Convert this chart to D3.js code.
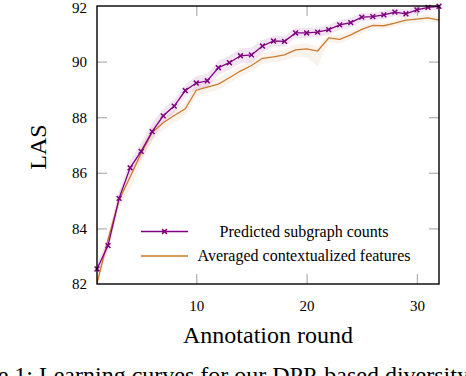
<!DOCTYPE html>
<html><head><meta charset="utf-8">
<script src="https://cdn.jsdelivr.net/npm/d3@7"></script>
<style>body{margin:0;background:#fff;overflow:hidden}svg{display:block}text{font-family:"Liberation Serif","Times New Roman",serif}</style>
</head><body>
<script>
const rounds = d3.range(1, 33);
const subgraphCounts = [82.54, 83.38, 85.08, 86.18, 86.77, 87.48, 88.05, 88.40, 88.96, 89.23, 89.31, 89.78, 89.96, 90.21, 90.24, 90.56, 90.74, 90.73, 91.03, 91.03, 91.06, 91.15, 91.32, 91.40, 91.60, 91.62, 91.68, 91.78, 91.72, 91.86, 91.95, 91.99];
const subgraphSpread = [0.2,0.25,0.25,0.25,0.3,0.3,0.25,0.25,0.2,0.25,0.25,0.25,0.25,0.27,0.27,0.22,0.2,0.2,0.18,0.18,0.18,0.18,0.18,0.18,0.15,0.15,0.15,0.15,0.15,0.15,0.12,0.12];
const averagedFeatures = [82.02, 83.6, 85.02, 85.85, 86.70, 87.45, 87.80, 88.06, 88.30, 88.97, 89.08, 89.19, 89.42, 89.66, 89.86, 90.12, 90.17, 90.24, 90.42, 90.46, 90.38, 90.85, 90.80, 90.96, 91.16, 91.30, 91.29, 91.38, 91.49, 91.53, 91.57, 91.49];
const averagedLow = [0.2,0.3,0.3,0.45,0.35,0.3,0.25,0.25,0.25,0.2,0.2,0.2,0.2,0.2,0.2,0.2,0.2,0.2,0.25,0.3,0.55,0.15,0.15,0.15,0.15,0.12,0.12,0.12,0.12,0.12,0.12,0.12];
const averagedHigh = [0.2,0.3,0.3,0.2,0.25,0.2,0.2,0.2,0.2,0.2,0.2,0.2,0.2,0.2,0.2,0.2,0.2,0.2,0.2,0.2,0.15,0.15,0.15,0.15,0.15,0.12,0.12,0.12,0.12,0.12,0.12,0.12];
const xTicks = [10, 20, 30];
const yTicks = [82, 84, 86, 88, 90, 92];
const seriesNames = ["Predicted subgraph counts", "Averaged contextualized features"];
const xTitle = "Annotation round";
const yTitle = "LAS";
const caption = "Figure 1: Learning curves for our DPP-based diversity";

const W = 466, H = 376;
const L = 97, R = 439, T = 6, B = 284;
const purple = "#800080", orange = "#cc7a2e";

const svg = d3.select("body").append("svg").attr("width", W).attr("height", H);
const x = d3.scaleLinear().domain([1, 32]).range([L, R]);
const y = d3.scaleLinear().domain([82, 92]).range([B, T]);

svg.append("clipPath").attr("id", "clip").append("rect")
  .attr("x", L).attr("y", T).attr("width", R - L).attr("height", B - T);

// ticks (inward, gray)
const tickLen = 10;
const styleTicks = a => { a.select(".domain").remove(); a.selectAll("line").attr("stroke", "#b4b4b4").attr("stroke-width", 1.3); };
const g = svg.append("g");
g.append("g").attr("transform", `translate(0,${B})`)
  .call(d3.axisTop(x).tickValues(xTicks).tickSize(tickLen).tickFormat("")).call(styleTicks);
g.append("g").attr("transform", `translate(0,${T})`)
  .call(d3.axisBottom(x).tickValues(xTicks).tickSize(tickLen).tickFormat("")).call(styleTicks);
g.append("g").attr("transform", `translate(${L},0)`)
  .call(d3.axisRight(y).tickValues(yTicks.slice(1, -1)).tickSize(tickLen).tickFormat("")).call(styleTicks);
g.append("g").attr("transform", `translate(${R},0)`)
  .call(d3.axisLeft(y).tickValues(yTicks.slice(1, -1)).tickSize(tickLen).tickFormat("")).call(styleTicks);

// tick labels
const xl = svg.append("g").attr("transform", `translate(0,${B})`)
  .call(d3.axisBottom(x).tickValues(xTicks).tickSize(0).tickPadding(16).tickFormat(d3.format("d")));
xl.select(".domain").remove();
xl.attr("font-family", null);
xl.selectAll("text").attr("font-size", 15).attr("fill", "#000");
const yl = svg.append("g").attr("transform", `translate(${L},0)`)
  .call(d3.axisLeft(y).tickValues(yTicks).tickSize(0).tickPadding(10).tickFormat(d3.format("d")));
yl.select(".domain").remove();
yl.attr("font-family", null);
yl.selectAll("text").attr("font-size", 15).attr("fill", "#000");
yl.selectAll("text").filter(d => d === 92).attr("dy", "0.40em");

// bands
const plot = svg.append("g").attr("clip-path", "url(#clip)");
const bandP = d3.area().x((d, i) => x(rounds[i])).y0((d, i) => y(d - subgraphSpread[i])).y1((d, i) => y(d + subgraphSpread[i]));
const bandO = d3.area().x((d, i) => x(rounds[i])).y0((d, i) => y(d - averagedLow[i])).y1((d, i) => y(d + averagedHigh[i]));
plot.append("path").datum(averagedFeatures).attr("d", bandO).attr("fill", orange).attr("fill-opacity", 0.09);
plot.append("path").datum(subgraphCounts).attr("d", bandP).attr("fill", purple).attr("fill-opacity", 0.1);

// lines
const line = d3.line().x((d, i) => x(rounds[i])).y(d => y(d));
svg.append("path").datum(averagedFeatures).attr("d", line).attr("fill", "none").attr("stroke", orange).attr("stroke-width", 1.3).attr("clip-path", "url(#clip)");
svg.append("path").datum(subgraphCounts).attr("d", line).attr("fill", "none").attr("stroke", purple).attr("stroke-width", 1.3);

function cross(sel, cx, cy, s) {
  sel.append("path").attr("d", `M${cx - s},${cy - s}L${cx + s},${cy + s}M${cx - s},${cy + s}L${cx + s},${cy - s}`)
    .attr("stroke", purple).attr("stroke-width", 1.5).attr("fill", "none");
}
const mk = svg.append("g");
subgraphCounts.forEach((d, i) => cross(mk, x(rounds[i]), y(d), 2.4));

// frame
svg.append("rect").attr("x", L).attr("y", T).attr("width", R - L).attr("height", B - T)
  .attr("fill", "none").attr("stroke", "#000").attr("stroke-width", 1.4);

// legend
const lg = svg.append("g");
const legY = [231.5, 256];
const legCols = [purple, orange];
legY.forEach((ly, i) => {
  lg.append("line").attr("x1", 141).attr("x2", 188).attr("y1", ly).attr("y2", ly)
    .attr("stroke", legCols[i]).attr("stroke-width", 1.3);
  lg.append("text").attr("x", 304).attr("y", ly).attr("dy", "0.33em").attr("text-anchor", "middle")
    .attr("font-size", 16).text(seriesNames[i]);
});
cross(lg, 164.5, legY[0], 2.4);

// titles
svg.append("text").attr("x", 268).attr("y", 343).attr("text-anchor", "middle")
  .attr("font-size", 24).text(xTitle);
svg.append("text").attr("transform", "translate(46,147) rotate(-90)").attr("text-anchor", "middle")
  .attr("font-size", 24).text(yTitle);

// caption (cropped at the bottom edge, as in the reference)
const cap = svg.append("text").attr("y", 383).attr("font-size", 24).text(caption);
const tmp = svg.append("text").attr("font-size", 24).text("Figure 1: ");
const pre = tmp.node().getComputedTextLength();
tmp.remove();
cap.attr("x", 33 - pre);
</script>
</body></html>
